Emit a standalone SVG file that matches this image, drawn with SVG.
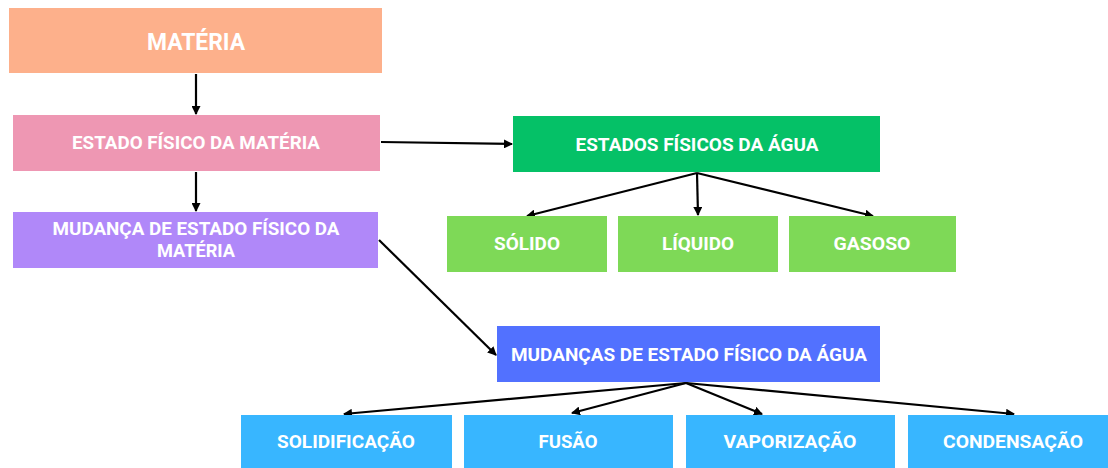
<svg xmlns="http://www.w3.org/2000/svg" width="1108" height="468" viewBox="0 0 1108 468">
<defs>
<marker id="ah" markerWidth="9" markerHeight="9" refX="8" refY="4.5" orient="auto" markerUnits="userSpaceOnUse"><path d="M0,0 L9,4.5 L0,9 Z" fill="#000"/></marker>
</defs>
<style>
.t{font-family:Roboto,"Liberation Sans",sans-serif;font-weight:bold;fill:#fff;text-anchor:middle;font-size:18px}
.c{stroke:#000;stroke-width:2.2;fill:none;marker-end:url(#ah)}
</style>
<rect width="1108" height="468" fill="#fff"/>
<g id="connectors">
<line class="c" x1="196" y1="74" x2="196" y2="114"/>
<line class="c" x1="196" y1="172" x2="196" y2="211"/>
<line class="c" x1="381" y1="142" x2="512" y2="144"/>
<line class="c" x1="379" y1="240" x2="496" y2="355"/>
<line class="c" x1="697" y1="173" x2="527" y2="216"/>
<line class="c" x1="697" y1="173" x2="698" y2="215"/>
<line class="c" x1="697" y1="173" x2="873" y2="216"/>
<line class="c" x1="686" y1="383" x2="344" y2="414"/>
<line class="c" x1="686" y1="383" x2="572" y2="413"/>
<line class="c" x1="686" y1="383" x2="762" y2="414"/>
<line class="c" x1="686" y1="383" x2="1014" y2="414"/>
</g>
<g id="materia"><rect x="9" y="8" width="373" height="65" fill="#FDB08B"/><text class="t" x="196" y="50" style="font-size:23px" textLength="98" lengthAdjust="spacingAndGlyphs">MATÉRIA</text></g>
<g id="estado-fisico"><rect x="13" y="115" width="367" height="56" fill="#EE97B3"/><text class="t" x="196" y="149" textLength="248" lengthAdjust="spacingAndGlyphs">ESTADO FÍSICO DA MATÉRIA</text></g>
<g id="mudanca"><rect x="13" y="212" width="365" height="56" fill="#B088F9"/><text class="t" x="196" y="235" textLength="287" lengthAdjust="spacingAndGlyphs">MUDANÇA DE ESTADO FÍSICO DA</text><text class="t" x="196" y="257" textLength="78" lengthAdjust="spacingAndGlyphs">MATÉRIA</text></g>
<g id="estados-agua"><rect x="513" y="116" width="367" height="56" fill="#05C167"/><text class="t" x="697" y="151" textLength="243" lengthAdjust="spacingAndGlyphs">ESTADOS FÍSICOS DA ÁGUA</text></g>
<g id="solido"><rect x="447" y="216" width="160" height="56" fill="#7ED957"/><text class="t" x="527" y="250" textLength="66" lengthAdjust="spacingAndGlyphs">SÓLIDO</text></g>
<g id="liquido"><rect x="618" y="216" width="160" height="56" fill="#7ED957"/><text class="t" x="698" y="250" textLength="72" lengthAdjust="spacingAndGlyphs">LÍQUIDO</text></g>
<g id="gasoso"><rect x="789" y="216" width="167" height="56" fill="#7ED957"/><text class="t" x="872" y="250" textLength="77" lengthAdjust="spacingAndGlyphs">GASOSO</text></g>
<g id="mudancas-agua"><rect x="497" y="326" width="383" height="56" fill="#5271FF"/><text class="t" x="689" y="361" textLength="356" lengthAdjust="spacingAndGlyphs">MUDANÇAS DE ESTADO FÍSICO DA ÁGUA</text></g>
<g id="solidificacao"><rect x="241" y="415" width="211" height="53" fill="#38B6FF"/><text class="t" x="346" y="448" textLength="138" lengthAdjust="spacingAndGlyphs">SOLIDIFICAÇÃO</text></g>
<g id="fusao"><rect x="464" y="415" width="209" height="53" fill="#38B6FF"/><text class="t" x="568" y="448" textLength="59" lengthAdjust="spacingAndGlyphs">FUSÃO</text></g>
<g id="vaporizacao"><rect x="686" y="415" width="209" height="53" fill="#38B6FF"/><text class="t" x="790" y="448" textLength="133" lengthAdjust="spacingAndGlyphs">VAPORIZAÇÃO</text></g>
<g id="condensacao"><rect x="908" y="415" width="200" height="53" fill="#38B6FF"/><text class="t" x="1013" y="448" textLength="140" lengthAdjust="spacingAndGlyphs">CONDENSAÇÃO</text></g>
</svg>
